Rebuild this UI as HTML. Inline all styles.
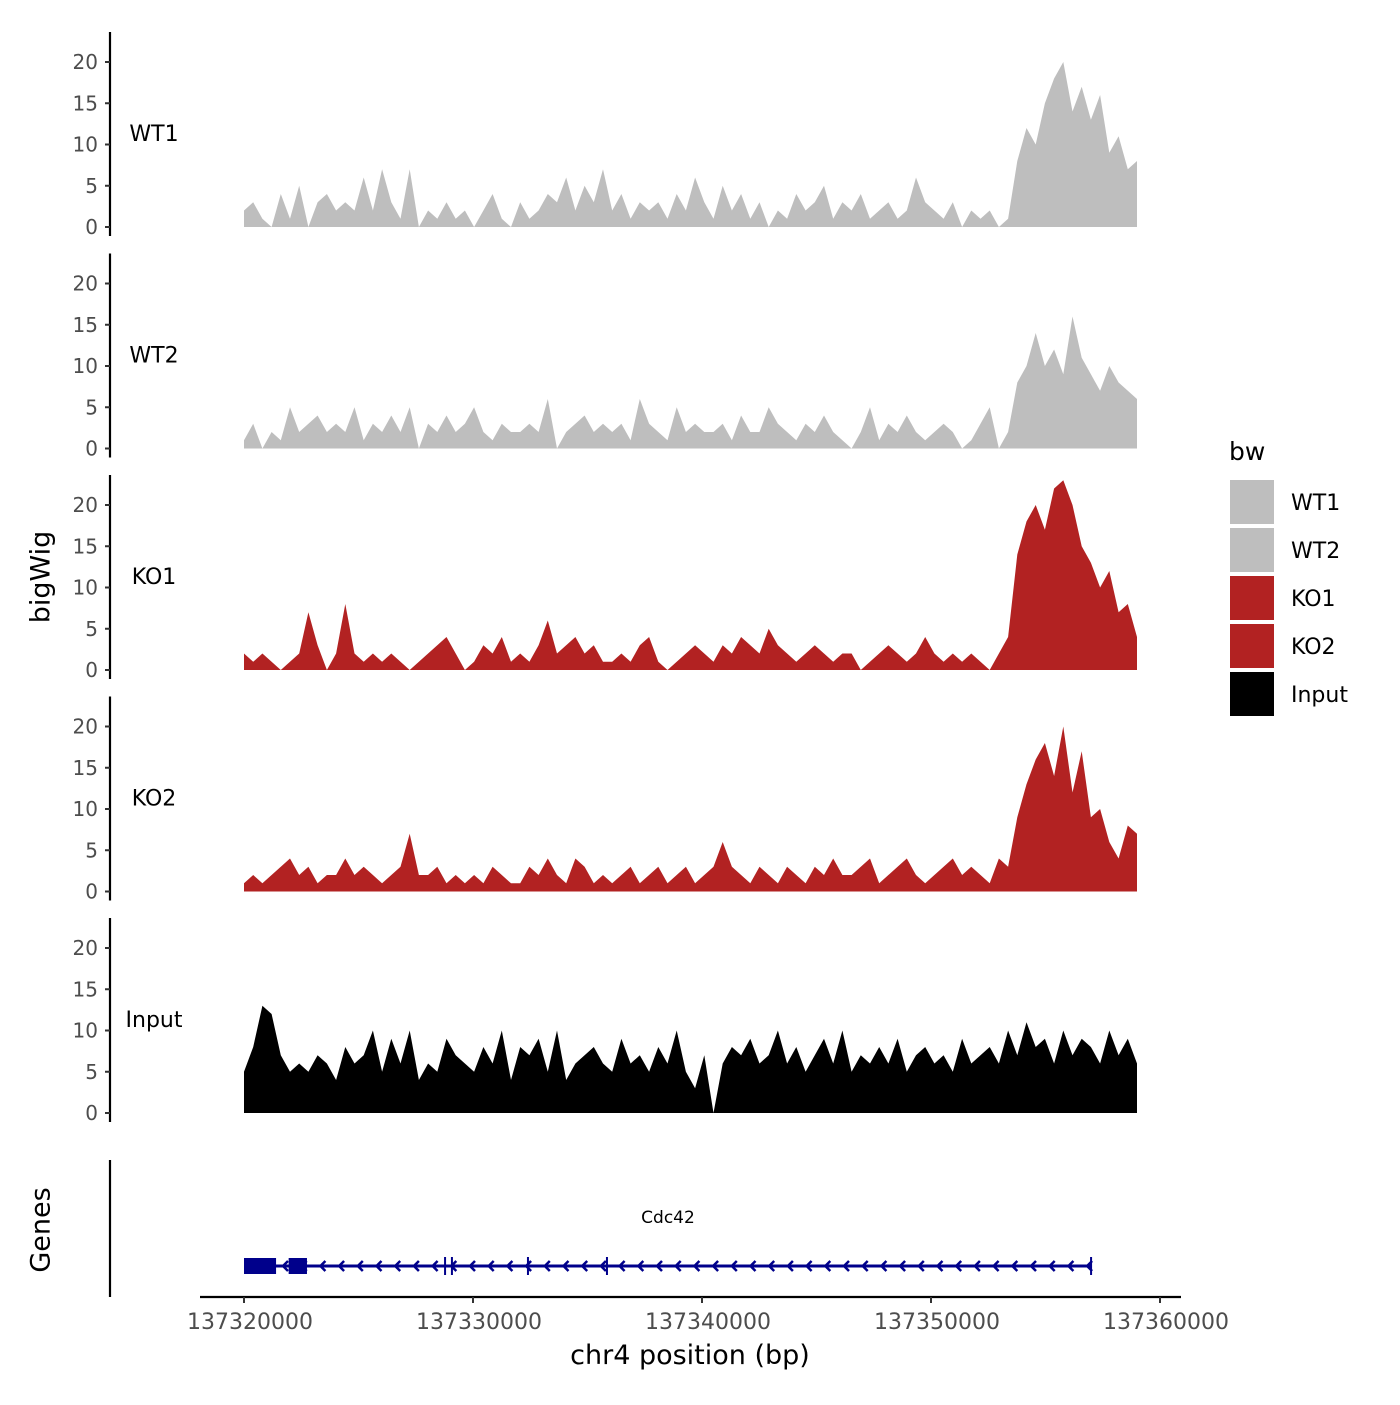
<!DOCTYPE html>
<html><head><meta charset="utf-8"><style>
body{margin:0;background:#fff}
svg text{font-family:"DejaVu Sans","Liberation Sans",sans-serif}
</style></head><body>
<svg id="chart" width="1400" height="1400" viewBox="0 0 1400 1400" xmlns="http://www.w3.org/2000/svg">
<rect width="1400" height="1400" fill="#fff"/>
<text x="42" y="577" font-size="27" text-anchor="middle" transform="rotate(-90 42 577)" dominant-baseline="middle">bigWig</text>
<text x="42" y="1230" font-size="27" text-anchor="middle" transform="rotate(-90 42 1230)" dominant-baseline="middle">Genes</text>
<text x="690" y="1364" font-size="27" text-anchor="middle">chr4 position (bp)</text>
<text x="1229" y="460" font-size="25">bw</text>
</svg>
<script>
const trackNames = ["WT1","WT2","KO1","KO2","Input"];
const trackColors = ["#bebebe","#bebebe","#b22222","#b22222","#000000"];
const startBp = 137320000;
const stepBp = 402;
const yTicks = [0,5,10,15,20];
const xTicks = [137320000,137330000,137340000,137350000,137360000];
const wt1 = [2,3,1,0,4,1,5,0,3,4, 2,3,2,6,2,7,3,1,7,0, 2,1,3,1,2,0,2,4,1,0, 3,1,2,4,3,6,2,5,3,7, 2,4,1,3,2,3,1,4,2,6, 3,1,5,2,4,1,3,0,2,1, 4,2,3,5,1,3,2,4,1,2, 3,1,2,6,3,2,1,3,0,2, 1,2,0,1,8,12,10,15,18,20,14,17,13,16,9,11,7,8];
const wt2 = [1,3,0,2,1,5,2,3,4,2, 3,2,5,1,3,2,4,2,5,0, 3,2,4,2,3,5,2,1,3,2, 2,3,2,6,0,2,3,4,2,3, 2,3,1,6,3,2,1,5,2,3, 2,2,3,1,4,2,2,5,3,2, 1,3,2,4,2,1,0,2,5,1, 3,2,4,2,1,2,3,2,0,1, 3,5,0,2,8,10,14,10,12,9,16,11,9,7,10,8,7,6];
const ko1 = [2,1,2,1,0,1,2,7,3,0, 2,8,2,1,2,1,2,1,0,1, 2,3,4,2,0,1,3,2,4,1, 2,1,3,6,2,3,4,2,3,1, 1,2,1,3,4,1,0,1,2,3, 2,1,3,2,4,3,2,5,3,2, 1,2,3,2,1,2,2,0,1,2, 3,2,1,2,4,2,1,2,1,2, 1,0,2,4,14,18,20,17,22,23,20,15,13,10,12,7,8,4];
const ko2 = [1,2,1,2,3,4,2,3,1,2, 2,4,2,3,2,1,2,3,7,2, 2,3,1,2,1,2,1,3,2,1, 1,3,2,4,2,1,4,3,1,2, 1,2,3,1,2,3,1,2,3,1, 2,3,6,3,2,1,3,2,1,3, 2,1,3,2,4,2,2,3,4,1, 2,3,4,2,1,2,3,4,2,3, 2,1,4,3,9,13,16,18,14,20,12,17,9,10,6,4,8,7];
const input = [5,8,13,12,7,5,6,5,7,6, 4,8,6,7,10,5,9,6,10,4, 6,5,9,7,6,5,8,6,10,4, 8,7,9,5,10,4,6,7,8,6, 5,9,6,7,5,8,6,10,5,3, 7,0,6,8,7,9,6,7,10,6, 8,5,7,9,6,10,5,7,6,8, 6,9,5,7,8,6,7,5,9,6, 7,8,6,10,7,11,8,9,6,10, 7,9,8,6,10,7,9,6];
const seriesList = [wt1,wt2,ko1,ko2,input];
const exonStarts = [137320000,137321950];
const exonEnds = [137321400,137322750];
const markerBps = [137328780,137329080,137332400,137335850,137356990];
const geneStart = 137320000, geneEnd = 137356990;

const NS="http://www.w3.org/2000/svg";
const svg=document.getElementById('chart');
function mk(tag,attrs,parent){const e=document.createElementNS(NS,tag);for(const k in attrs)e.setAttribute(k,attrs[k]);(parent||svg).appendChild(e);return e;}
function xScale(bp){return 244+(bp-startBp)*0.0229;}
function yScale(v,p){return 227+221.5*p-v*8.25;}

seriesList.forEach((vals,p)=>{
  const axis=mk('line',{x1:110,x2:110,y1:32+221.5*p,y2:236+221.5*p,stroke:'#000','stroke-width':2.2});
  
  
  yTicks.forEach(t=>{
    const y=yScale(t,p);
    const tk=mk('line',{x1:105,x2:110,y1:y,y2:y,stroke:'#333','stroke-width':2});
    
    
    const tl=mk('text',{x:98,y:y+7,'font-size':20,'text-anchor':'end',fill:'#4d4d4d'});
    tl.textContent=t;
    
    
  });
  const lab=mk('text',{x:154,y:141+221.5*p,'font-size':22,'text-anchor':'middle'});
  lab.textContent=trackNames[p];
  
  
  let d='M'+xScale(startBp)+','+yScale(0,p);
  vals.forEach((v,i)=>{d+=' L'+xScale(startBp+i*stepBp).toFixed(1)+','+yScale(v,p).toFixed(1);});
  d+=' L'+xScale(startBp+(vals.length-1)*stepBp).toFixed(1)+','+yScale(0,p)+' Z';
  const a=mk('path',{d:d,fill:trackColors[p]});
  
  
});

const gax=mk('line',{x1:110,x2:110,y1:1160,y2:1297,stroke:'#000','stroke-width':2.2});


const xax=mk('line',{x1:200,x2:1181,y1:1297,y2:1297,stroke:'#000','stroke-width':2.2});


xTicks.forEach(t=>{
  const x=xScale(t);
  const tk=mk('line',{x1:x,x2:x,y1:1297,y2:1303,stroke:'#333','stroke-width':2});
  
  
  const tl=mk('text',{x:x+6,y:1329,'font-size':22,'text-anchor':'middle',fill:'#4d4d4d'});
  tl.textContent=t;
  
  
});
const gl=mk('line',{x1:xScale(geneStart),x2:xScale(geneEnd),y1:1266,y2:1266,stroke:'#00008b','stroke-width':3});


for(let x=xScale(geneStart)+40;x<xScale(geneEnd);x+=18.7){
  const c=mk('path',{d:`M${x+4},${1261} L${x-1},${1266} L${x+4},${1271}`,fill:'none',stroke:'#00008b','stroke-width':2.5});
  
  
}
exonStarts.forEach((s,i)=>{
  const r=mk('rect',{x:xScale(s),y:1258,width:xScale(exonEnds[i])-xScale(s),height:16,fill:'#00008b'});
  
  
});
markerBps.forEach(b=>{
  const x=xScale(b);
  const m=mk('line',{x1:x,x2:x,y1:1257,y2:1275,stroke:'#00008b','stroke-width':2});
  
  
});
const gn=mk('text',{x:668,y:1223,'font-size':17,'text-anchor':'middle'});
gn.textContent='Cdc42';



const legendLabels=["WT1","WT2","KO1","KO2","Input"];
legendLabels.forEach((l,i)=>{
  const y=480+48*i;
  const r=mk('rect',{x:1230,y:y,width:44,height:44,fill:trackColors[i]});
  
  
  const t=mk('text',{x:1291,y:y+30,'font-size':22});
  t.textContent=l;
  
  
});
</script>
</body></html>
